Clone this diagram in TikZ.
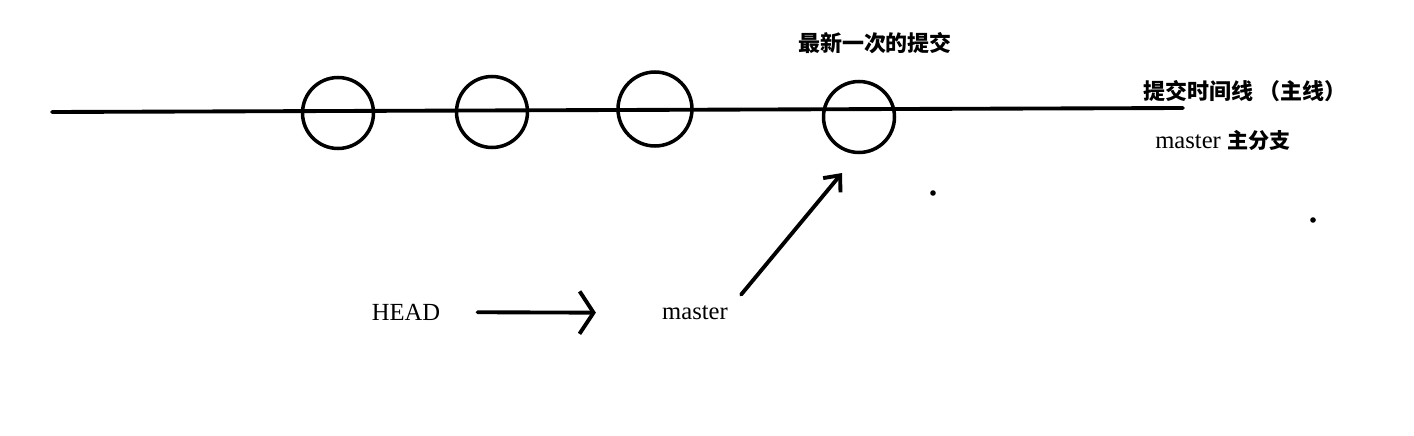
\documentclass[tikz,border=0pt]{standalone}
\usepackage{fontspec}
\setmainfont{Liberation Serif}
\newfontfamily\cjk{Noto Sans CJK SC}
\usetikzlibrary{arrows.meta,positioning}

\begin{document}
\begin{tikzpicture}[x=0.02cm, y=-0.02cm,
    commit/.style={draw, circle, line width=2pt, minimum width=1.42cm, inner sep=0pt},
    lbl/.style={inner sep=0pt, font=\fontsize{14}{16}\selectfont},
    zh/.style={inner sep=0pt, font=\cjk\bfseries\fontsize{12.5}{15}\selectfont},
    arr/.style={line width=2.2pt, line cap=round}]
  \useasboundingbox (0,0) rectangle (1414,436);
  % Timeline
  \coordinate (tstart) at (52,112);
  \coordinate (tend) at (1183,108);
  \draw[line width=2.2pt, line cap=round] (tstart) -- (tend);
  % Commits
  \node[commit] (c1) at (338,113) {};
  \node[commit] (c2) at (492,112) {};
  \node[commit, minimum width=1.48cm] (c3) at (655,109) {};
  \node[commit] (c4) at (859,117) {};
  % Labels
  \node[zh] (newest) at (875,43) {最新一次的提交};
  \node[zh, anchor=west] (tline) at (1143,91) {提交时间线 （主线）};
  \node[lbl, anchor=west] (branch) at (1155,140) {master {\cjk\bfseries\fontsize{12}{14}\selectfont 主分支}};
  % Pointers
  \node[lbl] (head) at (406,312) {HEAD};
  \node[lbl] (master) at (695,313) {master};
  \coordinate (tip) at (842,173);
  \draw[arr, -{Straight Barb[length=0.28cm, width=0.85cm, line width=2.2pt]},
        shorten <=0.74cm, shorten >=1.32cm] (head) -- (master);
  \draw[arr, -{Straight Barb[length=0.26cm, width=0.45cm, line width=2.2pt]}]
        ([shift={(13,-11)}]master.north east) -- (tip);
  % Dots
  \fill (933,193) circle (2.8);
  \fill (1313,220) circle (2.8);
\end{tikzpicture}
\end{document}
